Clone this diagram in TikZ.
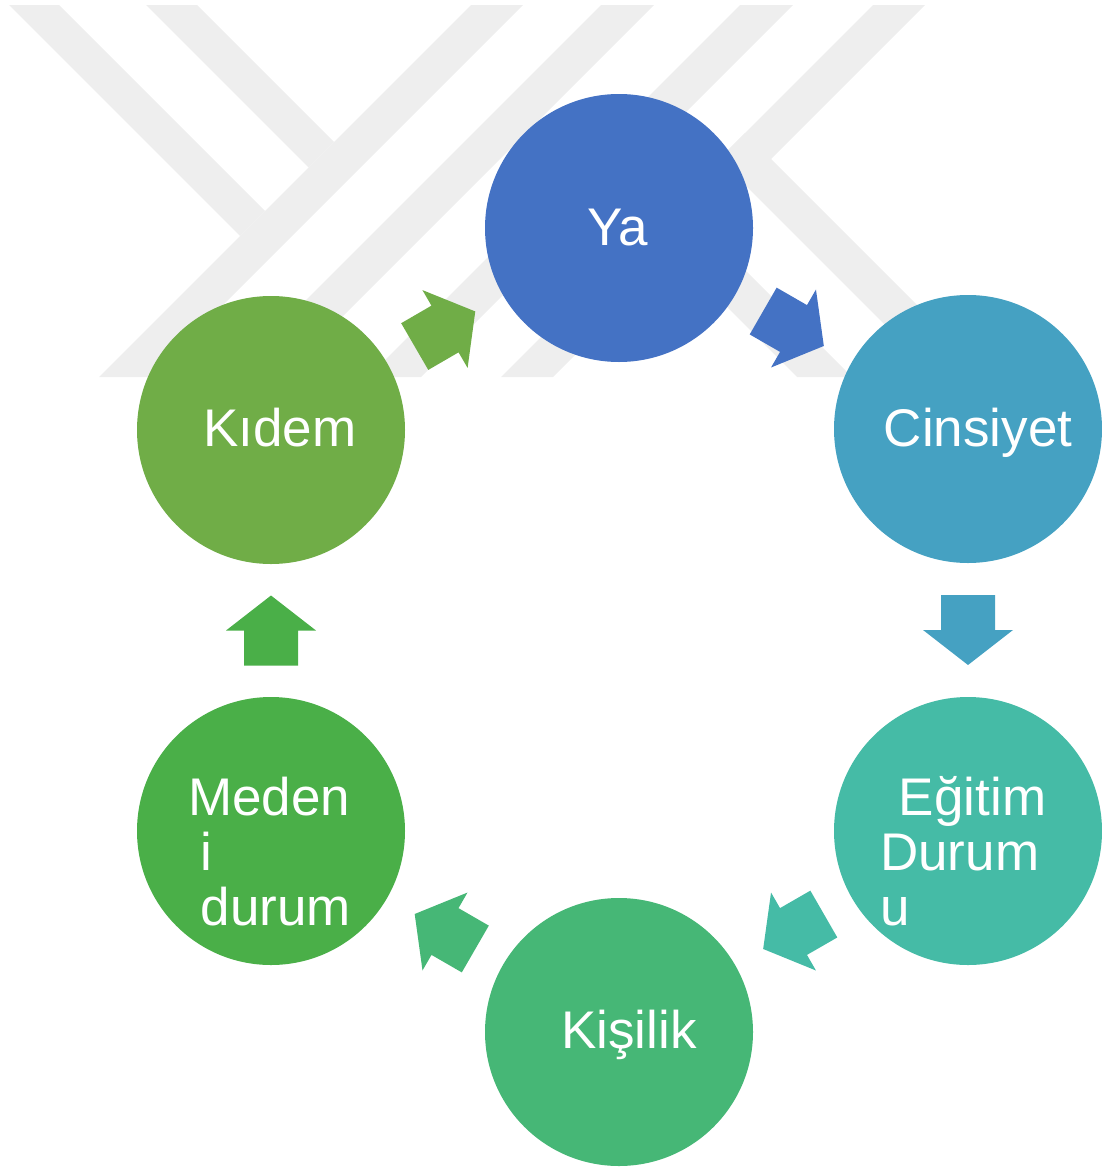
\documentclass[tikz,border=0pt]{standalone}
\usepackage{fontspec}
\setmainfont{Liberation Sans}
\usetikzlibrary{calc}

\definecolor{cYas}{HTML}{4472C4}
\definecolor{cCins}{HTML}{45A1C2}
\definecolor{cEgit}{HTML}{45BBA6}
\definecolor{cKisi}{HTML}{46B776}
\definecolor{cMed}{HTML}{4AAF48}
\definecolor{cKid}{HTML}{70AD47}
\definecolor{wmgray}{HTML}{EEEEEE}

% block arrow half way between two bubbles, pointing from #1 to #2
\newcommand\cyclearrow[3]{%
  \pgfmathanglebetweenpoints{\pgfpointanchor{#1}{center}}{\pgfpointanchor{#2}{center}}%
  \let\arrang\pgfmathresult
  \fill[#3, shift={($(#1.center)!0.5!(#2.center)$)}, rotate=\arrang]
    (-35,-27) -- (0,-27) -- (0,-45) -- (35,0) -- (0,45) -- (0,27) -- (-35,27) -- cycle;
}

\begin{document}
\begin{tikzpicture}[x=1pt, y=-1pt,
  bubble/.style={circle, minimum size=268pt, inner sep=0pt, fill=#1},
  lbl/.style={text=white, font=\fontsize{53}{55}\selectfont, inner sep=0pt}]

\useasboundingbox (0,0) rectangle (1102,1167);

% faint striped emblem in the background
\begin{scope}
  \clip (0,5) rectangle (1102,377);
  \fill[wmgray] (9,5) -- (59,5) -- (265,211) -- (240,236) -- cycle;
  \fill[wmgray] (146,5) -- (197,5) -- (334,142) -- (308.5,167.5) -- cycle;
  \fill[wmgray] (471,5) -- (523,5) -- (151,377) -- (99,377) -- cycle;
  \fill[wmgray] (601,5) -- (654,5) -- (282,377) -- (229,377) -- cycle;
  \fill[wmgray] (740,5) -- (793,5) -- (421,377) -- (368,377) -- cycle;
  \fill[wmgray] (873,5) -- (925,5) -- (553,377) -- (501,377) -- cycle;
  \fill[wmgray] (745,133) -- (989,377) -- (937,377) -- (719,159) -- cycle;
  \fill[wmgray] (676,201) -- (852,377) -- (797,377) -- (649,229) -- cycle;
\end{scope}

% the six bubbles of the cycle
\node[bubble=cYas]  (yas)  at (619,228)  {};
\node[bubble=cCins] (cins) at (968,429)  {};
\node[bubble=cEgit] (egit) at (968,831)  {};
\node[bubble=cKisi] (kisi) at (619,1032) {};
\node[bubble=cMed]  (med)  at (271,831)  {};
\node[bubble=cKid]  (kid)  at (271,430)  {};

% arrows between neighbours
\cyclearrow{yas}{cins}{cYas}
\cyclearrow{cins}{egit}{cCins}
\cyclearrow{egit}{kisi}{cEgit}
\cyclearrow{kisi}{med}{cKisi}
\cyclearrow{med}{kid}{cMed}
\cyclearrow{kid}{yas}{cKid}

% labels
\node[lbl, anchor=base] (yas-t)  at ($(yas.center)+(-1,17)$)  {Ya};
\node[lbl, anchor=base] (cins-t) at ($(cins.center)+(10,17)$) {Cinsiyet};
\node[lbl, anchor=base] (kisi-t) at ($(kisi.center)+(10,16)$) {Kişilik};
\node[lbl, anchor=base] (kid-t)  at ($(kid.center)+(9,16)$)   {Kıdem};

\node[lbl, anchor=base west] (egit-a) at (884,815) {\ Eğitim};
\node[lbl, anchor=base west] (egit-b) at (880,870) {Durum};
\node[lbl, anchor=base west] (egit-c) at (880,925) {u};

\node[lbl, anchor=base west] (med-a) at (188,815) {Meden};
\node[lbl, anchor=base west] (med-b) at (186,870) {\ i};
\node[lbl, anchor=base west] (med-c) at (186,925) {\ durum};

\end{tikzpicture}
\end{document}
